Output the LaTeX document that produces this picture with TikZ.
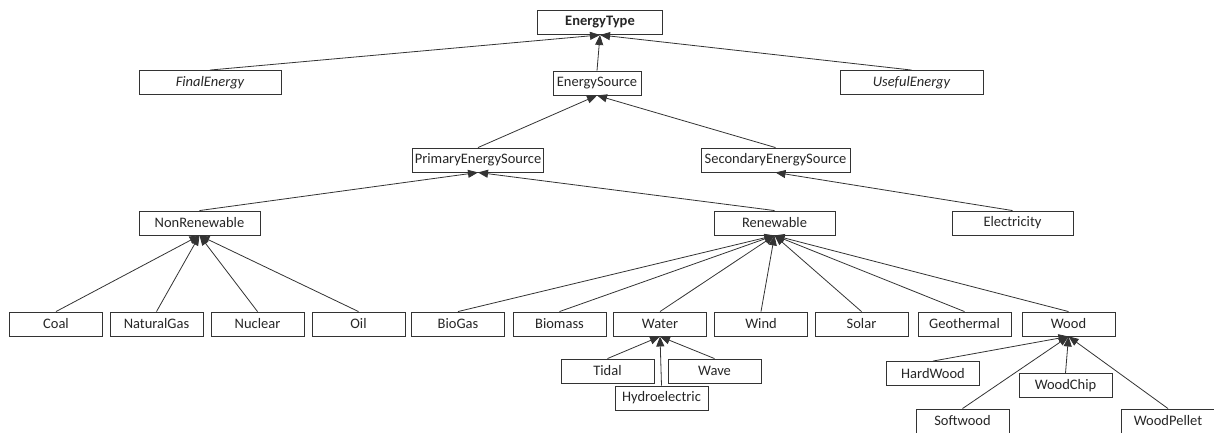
\documentclass[tikz,border=0pt]{standalone}
\usepackage{fontspec}
\setmainfont{Carlito}
\usepackage{tikz}
\usepackage{xcolor}
\usetikzlibrary{arrows.meta}
\definecolor{line-gray}{HTML}{333333}
\tikzset{
    class-box/.style = {draw=line-gray, fill=white, line width=0.9pt, rectangle, minimum width=93pt, minimum height=24pt, inner sep=2pt, text=black!85, font=\fontsize{14.5}{17}\selectfont},
    class-link/.style = {draw=line-gray, line width=0.8pt, -{Triangle[length=10pt,width=8pt]}},
}

\begin{document}
\begin{tikzpicture}[x=1pt,y=-1pt]
\useasboundingbox (0,0) rectangle (1214,432);
% top levels
\node[class-box, minimum width=125pt, font=\fontsize{14.5}{17}\selectfont\bfseries] (energy-type) at (600,22.5) {EnergyType};
\node[class-box, minimum width=142pt, font=\fontsize{14.5}{17}\selectfont\itshape] (final-energy) at (210,82.5) {FinalEnergy};
\node[class-box, minimum width=88pt] (energy-source) at (597,83) {EnergySource};
\node[class-box, minimum width=143pt, font=\fontsize{14.5}{17}\selectfont\itshape] (useful-energy) at (911.5,82.5) {UsefulEnergy};
\node[class-box, minimum width=130pt] (primary) at (478,160) {PrimaryEnergySource};
\node[class-box, minimum width=149pt] (secondary) at (775.5,160) {SecondaryEnergySource};
\node[class-box, minimum width=121pt] (non-renewable) at (199.5,223) {NonRenewable};
\node[class-box, minimum width=121pt] (renewable) at (774.5,223) {Renewable};
\node[class-box, minimum width=121pt] (electricity) at (1012.5,223) {Electricity};
% bottom row
\node[class-box] (coal) at (56,324) {Coal};
\node[class-box] (natural-gas) at (156.5,324) {NaturalGas};
\node[class-box] (nuclear) at (257.5,324) {Nuclear};
\node[class-box] (oil) at (358.5,324) {Oil};
\node[class-box] (bio-gas) at (458,324) {BioGas};
\node[class-box] (biomass) at (559.5,324) {Biomass};
\node[class-box] (water) at (660,324) {Water};
\node[class-box] (wind) at (761,324) {Wind};
\node[class-box] (solar) at (861.5,324) {Solar};
\node[class-box] (geothermal) at (964.5,324) {Geothermal};
\node[class-box] (wood) at (1068.5,324) {Wood};
% water and wood kinds
\node[class-box] (tidal) at (607.5,371) {Tidal};
\node[class-box] (wave) at (714.5,371) {Wave};
\node[class-box] (hydroelectric) at (661.5,398) {Hydroelectric};
\node[class-box] (hard-wood) at (933,373.5) {HardWood};
\node[class-box] (wood-chip) at (1065.5,385.5) {WoodChip};
\node[class-box] (softwood) at (962.5,421) {Softwood};
\node[class-box] (wood-pellet) at (1168,421) {WoodPellet};

\draw[class-link] (final-energy.north) -- (energy-type.south);
\draw[class-link] (energy-source.north) -- (energy-type.south);
\draw[class-link] (useful-energy.north) -- (energy-type.south);
\draw[class-link] (primary.north) -- (energy-source.south);
\draw[class-link] (secondary.north) -- (energy-source.south);
\draw[class-link] (non-renewable.north) -- (primary.south);
\draw[class-link] (renewable.north) -- (primary.south);
\draw[class-link] (electricity.north) -- (secondary.south);
\foreach \kind in {coal, natural-gas, nuclear, oil}
    \draw[class-link] (\kind.north) -- (non-renewable.south);
\foreach \kind in {bio-gas, biomass, water, wind, solar, geothermal, wood}
    \draw[class-link] (\kind.north) -- (renewable.south);
\foreach \kind in {tidal, wave, hydroelectric}
    \draw[class-link] (\kind.north) -- (water.south);
\foreach \kind in {hard-wood, wood-chip, softwood, wood-pellet}
    \draw[class-link] (\kind.north) -- (wood.south);
\end{tikzpicture}
\end{document}
